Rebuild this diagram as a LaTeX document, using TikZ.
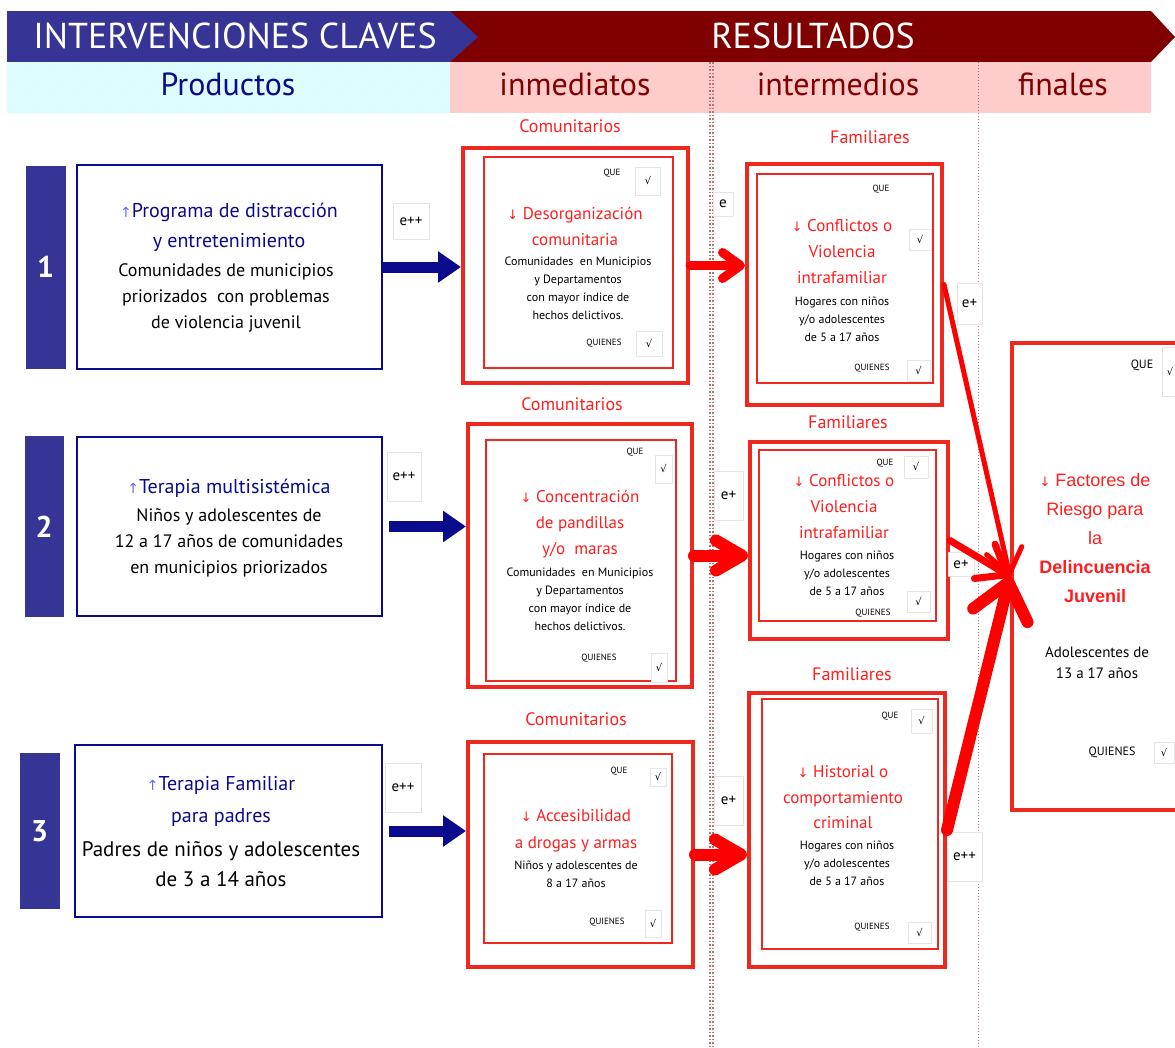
\documentclass[tikz,border=0pt]{standalone}
\usepackage{fontspec}
\setmainfont{PT Sans}
\newfontfamily\symfont{DejaVu Sans}
\newfontfamily\arialfont{Liberation Sans}
\usetikzlibrary{arrows.meta,positioning,patterns}
\definecolor{hdrblue}{RGB}{54,53,150}
\definecolor{hdrred}{RGB}{128,0,0}
\definecolor{prodnavy}{RGB}{10,10,140}
\definecolor{boxred}{RGB}{238,40,30}
\definecolor{txtred}{RGB}{255,30,30}
\definecolor{bandpink}{RGB}{255,204,204}
\definecolor{bandcyan}{RGB}{232,252,253}
\tikzset{
  numbar/.style={
    rectangle,
    fill=hdrblue,
    text=white,
    inner sep=0pt,
    font=\bfseries\fontsize{30}{30}\selectfont
  },
  prodbox/.style={
    rectangle,
    draw=prodnavy,
    line width=2.5pt,
    fill=white,
    inner sep=0pt,
    minimum width=305pt
  },
  prodtitle/.style={text=prodnavy, align=center, inner sep=0pt, font=\fontsize{20}{30}\selectfont},
  proddesc/.style={align=center, inner sep=0pt, font=\fontsize{18}{26}\selectfont},
  outerbox/.style={rectangle, draw=boxred, line width=4pt, fill=white, inner sep=0pt},
  innerbox/.style={rectangle, draw=boxred, line width=1.2pt, inner sep=0pt},
  chk/.style={
    rectangle,
    draw=gray!20,
    line width=1pt,
    fill=white,
    inner sep=0pt,
    font=\symfont\fontsize{10}{10}\selectfont
  },
  tag/.style={inner sep=0pt, font=\fontsize{9}{9}\selectfont},
  effect/.style={
    rectangle,
    draw=gray!20,
    line width=1pt,
    fill=white,
    inner sep=0pt,
    font=\fontsize{15}{15}\selectfont
  },
  grouplabel/.style={text=txtred, inner sep=0pt, font=\fontsize{18}{18}\selectfont},
  restitle/.style={text=txtred, align=center, inner sep=0pt, font=\fontsize{17}{26}\selectfont},
  resdesc/.style={align=center, inner sep=0pt, font=\fontsize{12}{18}\selectfont},
  hdrtext/.style={text=white, font=\fontsize{36}{36}\selectfont},
  bandtext/.style={font=\fontsize{32}{32}\selectfont},
  bluearrow/.style={draw=prodnavy, line width=11pt, -{Triangle[length=23pt,width=30pt]}},
  redarrow/.style={draw=red, line cap=round, -{Straight Barb[round]}},
  sepline/.style={draw=hdrred!55, dotted, line width=1.5pt}
}
\newcommand{\dn}{{\symfont\fontsize{13}{13}\selectfont↓}}
\newcommand{\up}{{\color{blue!60}\symfont\fontsize{14}{14}\selectfont↑}}

\begin{document}
\begin{tikzpicture}[x=1pt, y=-1pt]
  \useasboundingbox (0,0) rectangle (1175,1047);

  % header
  \fill[hdrred] (450,11) -- (1151,11) -- (1175,37) -- (1151,62) -- (450,62) -- cycle;
  \fill[hdrblue] (7,11) -- (450,11) -- (478,37) -- (450,62) -- (7,62) -- cycle;
  \node[hdrtext] (hint) at (235,36) {INTERVENCIONES CLAVES};
  \node[hdrtext] (hres) at (813,36) {RESULTADOS};
  \fill[bandcyan] (7,62) rectangle (450,113);
  \fill[pattern=north east lines, pattern color=cyan!20] (7,62) rectangle (450,113);
  \fill[bandpink] (450,62) rectangle (1151,113);
  \draw[sepline] (710,62) -- (710,1047);
  \draw[sepline] (713,62) -- (713,1047);
  \draw[sepline, line width=1pt] (978,62) -- (978,1047);
  \node[bandtext, text=prodnavy] (hprod) at (228,84) {Productos};
  \node[bandtext, text=hdrred] (himm) at (575,84) {inmediatos};
  \node[bandtext, text=hdrred] (hint2) at (838,84) {intermedios};
  \node[bandtext, text=hdrred] (hfin) at (1063,84) {finales};

  % productos
  \node[prodbox, minimum height=204pt] (p1) at (229.5,267) {};
  \node[numbar, minimum width=40pt, minimum height=203pt, left=10pt of p1] (n1) {1};
  \node[prodtitle] (p1t) at (229,227) {\up Programa de distracción\\y entretenimiento};
  \node[proddesc] (p1d) at (226,298) {Comunidades de municipios\\priorizados\ \ con problemas\\de violencia juvenil};

  \node[prodbox, minimum height=179pt] (p2) at (229.5,526.5) {};
  \node[numbar, minimum width=39pt, minimum height=181pt, left=12pt of p2] (n2) {2};
  \node[prodtitle] (p2t) at (229,488) {\up Terapia multisistémica};
  \node[proddesc] (p2d) at (229,543) {Niños y adolescentes de\\12 a 17 años de comunidades\\en municipios priorizados};

  \node[prodbox, minimum width=307pt, minimum height=172pt] (p3) at (228.5,831) {};
  \node[numbar, minimum width=40pt, minimum height=156pt, left=14pt of p3] (n3) {3};
  \node[prodtitle, font=\fontsize{20}{32}\selectfont] (p3t) at (221,801) {\up Terapia Familiar\\para padres};
  \node[proddesc, font=\fontsize{21}{30}\selectfont] (p3d) at (221,864) {Padres de niños y adolescentes\\de 3 a 14 años};

  % resultados inmediatos
  \node[outerbox, minimum width=225pt, minimum height=235pt] (i1) at (575.5,265.5) {};
  \node[innerbox, minimum width=189pt, minimum height=211pt] (i1in) at (578.5,262.5) {};
  \node[grouplabel] (c1) at (570,126) {Comunitarios};
  \node[tag] (q1) at (612,173) {QUE};
  \node[chk, minimum width=25pt, minimum height=28pt] (q1c) at (648,181) {√};
  \node[restitle] (i1t) at (575,226) {\dn\ Desorganización\\comunitaria};
  \node[resdesc] (i1d) at (578,288) {Comunidades\ \ en Municipios\\y Departamentos\\con mayor índice de\\hechos delictivos.};
  \node[tag] (w1) at (604,343) {QUIENES};
  \node[chk, minimum width=26pt, minimum height=25pt] (w1c) at (649,344) {√};

  \node[outerbox, minimum width=224pt, minimum height=263pt] (i2) at (580,555.5) {};
  \node[innerbox, minimum width=190pt, minimum height=241pt] (i2in) at (581,560.5) {};
  \node[grouplabel] (c2) at (572,404) {Comunitarios};
  \node[tag] (q2) at (635,452) {QUE};
  \node[chk, minimum width=17pt, minimum height=28pt] (q2c) at (663.5,469) {√};
  \node[restitle] (i2t) at (580,524) {\dn\ Concentración\\de pandillas\\y/o\ \ maras};
  \node[resdesc] (i2d) at (580,599) {Comunidades\ \ en Municipios\\y Departamentos\\con mayor índice de\\hechos delictivos.};
  \node[tag] (w2) at (599,658) {QUIENES};
  \node[chk, minimum width=16pt, minimum height=29pt] (w2c) at (659,667.5) {√};

  \node[outerbox, minimum width=225pt, minimum height=225pt] (i3) at (580.5,854.5) {};
  \node[innerbox, minimum width=188pt, minimum height=189pt] (i3in) at (578,848.5) {};
  \node[grouplabel] (c3) at (576,719) {Comunitarios};
  \node[tag] (q3) at (619,771) {QUE};
  \node[chk, minimum width=16pt, minimum height=18pt] (q3c) at (658,777) {√};
  \node[restitle, font=\fontsize{17}{27}\selectfont] (i3t) at (576,830.5) {\dn\ Accesibilidad\\a drogas y armas};
  \node[resdesc] (i3d) at (576,874) {Niños y adolescentes\ de\\8 a 17 años};
  \node[tag] (w3) at (607,922) {QUIENES};
  \node[chk, minimum width=16pt, minimum height=27pt] (w3c) at (653,923.5) {√};

  % resultados intermedios
  \node[outerbox, minimum width=195pt, minimum height=241pt] (f1) at (844.5,284.5) {};
  \node[innerbox, minimum width=176pt, minimum height=209pt] (f1in) at (845,278.5) {};
  \node[grouplabel] (m1) at (870,137) {Familiares};
  \node[tag] (q4) at (881,189) {QUE};
  \node[chk, minimum width=22pt, minimum height=21pt] (q4c) at (920,240) {√};
  \node[restitle] (f1t) at (842,252) {\dn\ Conflictos o\\Violencia\\intrafamiliar};
  \node[resdesc] (f1d) at (842,319) {Hogares\ con niños\\y/o adolescentes\\de 5 a 17 años};
  \node[tag] (w4) at (872,368) {QUIENES};
  \node[chk, minimum width=23pt, minimum height=21pt] (w4c) at (918.5,370.5) {√};

  \node[outerbox, minimum width=198pt, minimum height=197pt] (f2) at (849,540.5) {};
  \node[innerbox, minimum width=177pt, minimum height=171pt] (f2in) at (847.5,535.5) {};
  \node[grouplabel] (m2) at (848,422) {Familiares};
  \node[tag] (q5) at (885,463) {QUE};
  \node[chk, minimum width=24pt, minimum height=22pt] (q5c) at (916,467) {√};
  \node[restitle] (f2t) at (844,507) {\dn\ Conflictos o\\Violencia\\intrafamiliar};
  \node[resdesc] (f2d) at (847,573) {Hogares\ con niños\\y/o adolescentes\\de 5 a 17 años};
  \node[tag] (w5) at (873,613) {QUIENES};
  \node[chk, minimum width=23pt, minimum height=21pt] (w5c) at (918.5,601.5) {√};

  \node[outerbox, minimum width=196pt, minimum height=274pt] (f3) at (847,830) {};
  \node[innerbox, minimum width=176pt, minimum height=250pt] (f3in) at (850,824) {};
  \node[grouplabel] (m3) at (852,674) {Familiares};
  \node[tag] (q6) at (890,716) {QUE};
  \node[chk, minimum width=21pt, minimum height=24pt] (q6c) at (921.5,721) {√};
  \node[restitle, font=\fontsize{17}{25.5}\selectfont] (f3t) at (843,797.5) {\dn\ Historial o\\comportamiento\\criminal};
  \node[resdesc] (f3d) at (847,863.5) {Hogares\ con niños\\y/o adolescentes\\de 5 a 17 años};
  \node[tag] (w6) at (872,927) {QUIENES};
  \node[chk, minimum width=23pt, minimum height=21pt] (w6c) at (919.5,932.5) {√};

  % resultado final
  \node[outerbox, minimum width=188pt, minimum height=467pt] (fin) at (1106,576.5) {};
  \node[tag, font=\fontsize{12}{12}\selectfont] (q7) at (1142,365) {QUE};
  \node[chk, minimum width=16pt, minimum height=49pt] (q7c) at (1170,372) {√};
  \node[restitle, font=\arialfont\fontsize{18}{29}\selectfont] (fint) at (1095,538.5) {\dn\ Factores de\\Riesgo para\\la\\{\bfseries Delincuencia}\\{\bfseries Juvenil}};
  \node[resdesc, font=\fontsize{15}{21}\selectfont] (find) at (1097,662.5) {Adolescentes de\\13 a 17 años};
  \node[tag, font=\fontsize{12}{12}\selectfont] (w7) at (1112,752) {QUIENES};
  \node[chk, minimum width=20pt, minimum height=21pt] (w7c) at (1164,752.5) {√};

  % efectos
  \node[effect, minimum width=36pt, minimum height=36pt] (e1) at (411,221) {e++};
  \node[effect, minimum width=34pt, minimum height=49pt] (e2) at (404,476.5) {e++};
  \node[effect, minimum width=36pt, minimum height=49pt] (e3) at (403,787.5) {e++};
  \node[effect, minimum width=20pt, minimum height=24pt] (e4) at (723,204) {e};
  \node[effect, minimum width=29pt, minimum height=49pt] (e5) at (728.5,495.5) {e+};
  \node[effect, minimum width=29pt, minimum height=49pt] (e6) at (728.5,800.5) {e+};
  \node[effect, minimum width=25pt, minimum height=41pt] (e7) at (969.5,303.5) {e+};
  \node[effect, minimum width=26pt, minimum height=24pt] (e8) at (961,564) {e+};
  \node[effect, minimum width=35pt, minimum height=49pt] (e9) at (964.5,856.5) {e++};

  % flechas
  \draw[bluearrow] (p1.east) -- (p1.east -| i1.west);
  \draw[bluearrow, shorten <=6pt] (p2.east) -- (p2.east -| i2.west);
  \draw[bluearrow, shorten <=6pt] (p3.east) -- (p3.east -| i3.west);
  \draw[redarrow, line width=9pt, -{Straight Barb[round, length=18pt, width=26pt]}] (i1.east) -- (i1.east -| f1.west);
  \draw[redarrow, line width=12pt, -{Straight Barb[round, length=26pt, width=30pt]}] (i2.east) -- (i2.east -| f2.west);
  \draw[redarrow, line width=12pt, -{Straight Barb[round, length=26pt, width=30pt]}] (i3.east) -- (i3.east -| f3.west);
  \draw[redarrow, line width=5pt, -{Straight Barb[round, length=24pt, width=36pt]}] (f1.east) -- (fin.west);
  \draw[redarrow, line width=7pt, -{Straight Barb[round, length=26pt, width=40pt]}] (f2.east) -- (fin.west);
  \draw[redarrow, line width=12pt, -{Straight Barb[round, length=34pt, width=56pt]}] (f3.east) -- (fin.west);
\end{tikzpicture}
\end{document}
